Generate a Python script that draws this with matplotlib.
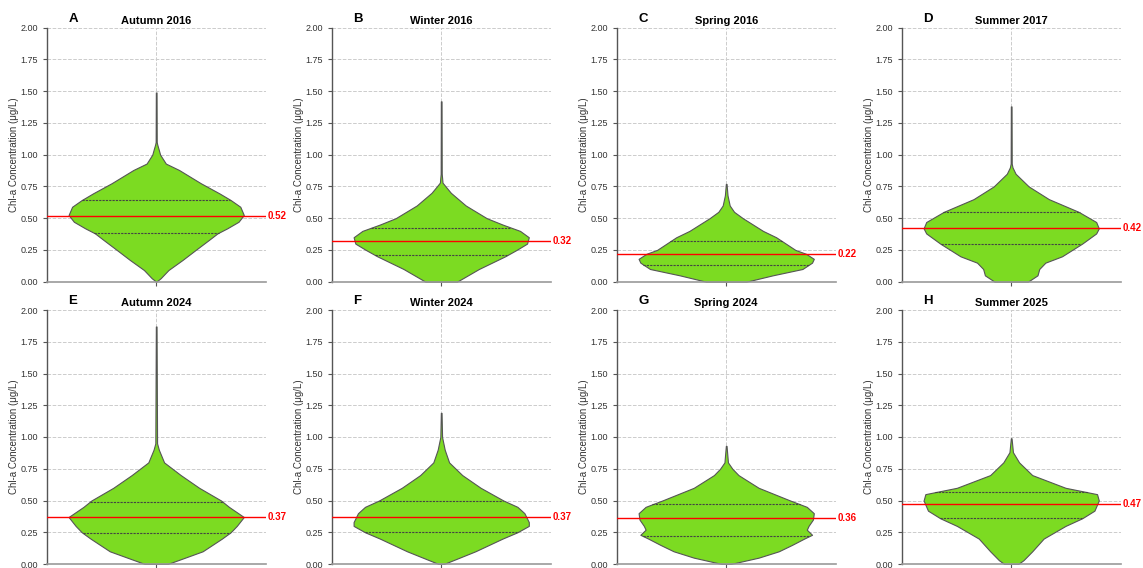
import matplotlib
matplotlib.use('Agg')
import matplotlib.pyplot as plt
import numpy as np

plt.rcParams['font.family'] = ['Liberation Sans', 'DejaVu Sans']

# panel letters and titles
letters = ['A', 'B', 'C', 'D', 'E', 'F', 'G', 'H']
titles = ['Autumn 2016', 'Winter 2016', 'Spring 2016', 'Summer 2017',
          'Autumn 2024', 'Winter 2024', 'Spring 2024', 'Summer 2025']

# violin outlines: concentration level -> relative width
levels_a = [0.0, 0.027, 0.092, 0.171, 0.25, 0.328, 0.381, 0.42, 0.472, 0.525, 0.59, 0.643, 0.696, 0.775, 0.88, 0.93, 1.0, 1.037, 1.08, 1.1, 1.49]
widths_a = [0.0, 0.05, 0.14, 0.30, 0.45, 0.60, 0.70, 0.81, 0.94, 1.0, 0.96, 0.85, 0.72, 0.51, 0.26, 0.11, 0.045, 0.03, 0.012, 0.006, 0.004]
levels_b = [0.0, 0.1, 0.2, 0.25, 0.3, 0.35, 0.4, 0.45, 0.5, 0.6, 0.7, 0.75, 0.78, 0.85, 1.42]
widths_b = [0.18, 0.43, 0.73, 0.86, 0.98, 1.0, 0.9, 0.70, 0.52, 0.28, 0.11, 0.05, 0.015, 0.006, 0.004]
levels_c = [0.0, 0.05, 0.1, 0.15, 0.18, 0.22, 0.25, 0.3, 0.35, 0.4, 0.5, 0.55, 0.6, 0.68, 0.77]
widths_c = [0.23, 0.53, 0.87, 0.98, 1.0, 0.91, 0.79, 0.68, 0.57, 0.42, 0.19, 0.09, 0.04, 0.015, 0.004]
levels_d = [0.0, 0.05, 0.1, 0.15, 0.2, 0.3, 0.38, 0.42, 0.47, 0.55, 0.65, 0.75, 0.85, 0.9, 0.93, 1.38]
widths_d = [0.19, 0.30, 0.32, 0.39, 0.58, 0.81, 0.97, 1.0, 0.97, 0.77, 0.43, 0.20, 0.05, 0.015, 0.006, 0.004]
levels_e = [0.0, 0.1, 0.2, 0.25, 0.3, 0.37, 0.45, 0.5, 0.6, 0.7, 0.8, 0.9, 0.95, 1.87]
widths_e = [0.13, 0.53, 0.75, 0.85, 0.92, 1.0, 0.83, 0.74, 0.49, 0.28, 0.09, 0.03, 0.01, 0.004]
levels_f = [0.0, 0.1, 0.2, 0.25, 0.3, 0.33, 0.4, 0.45, 0.5, 0.6, 0.7, 0.8, 0.9, 1.0, 1.19]
widths_f = [0.03, 0.39, 0.70, 0.87, 1.0, 1.0, 0.95, 0.87, 0.71, 0.45, 0.24, 0.09, 0.04, 0.01, 0.004]
levels_g = [0.0, 0.05, 0.1, 0.15, 0.2, 0.23, 0.27, 0.3, 0.35, 0.4, 0.45, 0.5, 0.6, 0.7, 0.75, 0.8, 0.93]
widths_g = [0.05, 0.37, 0.60, 0.75, 0.89, 0.98, 0.92, 0.94, 0.99, 1.0, 0.92, 0.73, 0.37, 0.14, 0.07, 0.02, 0.004]
levels_h = [0.0, 0.03, 0.1, 0.2, 0.3, 0.36, 0.42, 0.5, 0.55, 0.6, 0.7, 0.8, 0.88, 0.99]
widths_h = [0.08, 0.14, 0.24, 0.37, 0.62, 0.81, 0.95, 1.0, 0.98, 0.62, 0.24, 0.09, 0.02, 0.004]

all_levels = [levels_a, levels_b, levels_c, levels_d, levels_e, levels_f, levels_g, levels_h]
all_widths = [widths_a, widths_b, widths_c, widths_d, widths_e, widths_f, widths_g, widths_h]

# quartiles and medians
q1 = [0.385, 0.21, 0.135, 0.295, 0.245, 0.25, 0.22, 0.36]
q3 = [0.645, 0.425, 0.32, 0.545, 0.49, 0.50, 0.47, 0.565]
medians = [0.52, 0.32, 0.22, 0.42, 0.37, 0.37, 0.36, 0.47]

fig = plt.figure(figsize=(11.43, 5.68), dpi=100)

half = 0.4  # widest half-width of each violin, in x units
for i in range(8):
    row, col = divmod(i, 4)
    left = (46.7 + col * 285) / 1143
    bottom = 1 - (281.7 + row * 282.3) / 568
    ax = fig.add_axes([left, bottom, 219 / 1143, 254 / 568])

    lv = np.array(all_levels[i])
    w = np.array(all_widths[i]) * half
    ax.fill_betweenx(lv, -w, w, facecolor='#7CDB22', edgecolor='#555555', linewidth=0.8, zorder=2)

    for q in (q1[i], q3[i]):
        wq = np.interp(q, lv, w)
        ax.plot([-wq, wq], [q, q], color='#444444', linestyle=(0, (2, 1)), linewidth=0.8, zorder=3)

    ax.axhline(medians[i], color='red', linewidth=1.0, zorder=4)
    ax.text(1.01, medians[i], f'{medians[i]:.2f}', transform=ax.get_yaxis_transform(),
            color='red', fontsize=7, fontweight='bold', va='center', ha='left')

    ax.set_xlim(-0.5, 0.5)
    ax.set_ylim(0, 2.0)
    ax.set_yticks(np.arange(0, 2.01, 0.25))
    ax.set_yticklabels([f'{v:.2f}' for v in np.arange(0, 2.01, 0.25)])
    ax.set_xticks([0])
    ax.set_xticklabels([''])
    ax.grid(True, linestyle='--', color='#cccccc', linewidth=0.7, zorder=0)
    ax.set_axisbelow(True)
    ax.tick_params(axis='both', labelsize=6.5, length=3, width=0.8, color='#555555', labelcolor='#333333')
    for s in ['top', 'right']:
        ax.spines[s].set_visible(False)
    ax.spines['left'].set_color('#555555')
    ax.spines['bottom'].set_color('#999999')
    ax.spines['left'].set_linewidth(1.0)
    ax.spines['bottom'].set_linewidth(1.2)
    ax.set_ylabel('Chl-a Concentration (μg/L)', fontsize=7, color='#333333', labelpad=1)
    ax.set_title(titles[i], fontsize=8, fontweight='bold', pad=3)
    ax.text(0.1, 1.012, letters[i], transform=ax.transAxes, fontsize=9.5, fontweight='bold', va='bottom', ha='left')

fig.savefig('out.png', dpi=100)
